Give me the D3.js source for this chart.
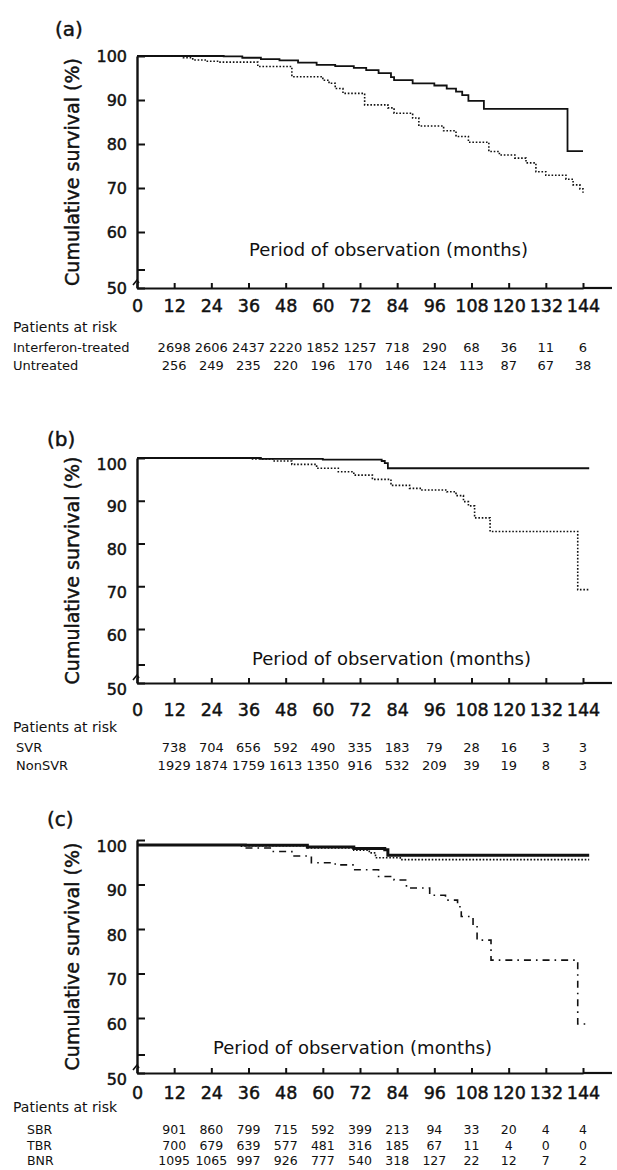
<!DOCTYPE html>
<html>

<head>
    <style>
        body {
            margin: 0;
            background: white;
        }

        text {
            font-family: "DejaVu Sans", sans-serif;
            fill: #111;
        }

        .heavy {
            stroke: #111;
            stroke-width: 0.45px;
        }
    </style>
</head>

<body>
    <div id="chart"></div>
    <script src="https://cdn.jsdelivr.net/npm/d3@7"></script>
    <script>

        const width = 617
        const height = 1170

        // x axis months and patients-at-risk columns
        const months = [0, 12, 24, 36, 48, 60, 72, 84, 96, 108, 120, 132, 144]
        const riskMonths = [12, 24, 36, 48, 60, 72, 84, 96, 108, 120, 132, 144]
        const yTicks = [50, 60, 70, 80, 90, 100]

        // (a) interferon-treated vs untreated, [month, survival %]
        const interferonCurve = [[0, 100], [28, 99.9], [34, 99.6], [40, 99.3], [46, 99.0], [52, 98.5], [58, 98.0], [64, 97.7],
        [70, 97.3], [74, 96.8], [78, 96.1], [82, 95.2], [83, 94.5], [89, 93.8], [96, 93.3], [100, 92.6], [103, 91.9],
        [105, 91.1], [107, 89.8], [112, 88.0], [139, 78.4], [144, 78.4]]
        const untreatedCurve = [[0, 100], [15, 99.6], [18, 99.1], [22, 98.8], [26, 98.6], [39, 97.6], [50, 95.3], [60, 94.5],
        [62, 93.8], [64, 92.6], [66.5, 91.5], [73.5, 88.9], [81, 88.2], [83, 87.0], [89, 85.9], [91, 84.1], [99, 83.0],
        [103, 81.7], [107, 80.4], [113.6, 78.3], [117, 77.5], [122, 76.8], [125.6, 75.7], [128.8, 73.7], [132, 72.9],
        [138.5, 72.0], [140.8, 70.7], [143, 69.8], [144, 68.9]]
        const interferonRisk = [2698, 2606, 2437, 2220, 1852, 1257, 718, 290, 68, 36, 11, 6]
        const untreatedRisk = [256, 249, 235, 220, 196, 170, 146, 124, 113, 87, 67, 38]

        // (b) SVR vs NonSVR
        const svrCurve = [[0, 100], [40, 99.8], [60, 99.6], [79, 99.3], [80, 98.8], [81, 97.6], [146, 97.6]]
        const nonSvrCurve = [[0, 100], [37, 99.8], [44, 99.3], [50, 98.5], [58, 97.6], [65, 96.8], [70, 96.0], [76, 95.0],
        [82, 93.6], [88, 92.9], [92, 92.5], [100, 92.1], [103, 91.2], [105.4, 89.8], [107, 88.8], [109, 86.0],
        [114, 82.8], [142.3, 69.2], [146, 69.2]]
        const svrRisk = [738, 704, 656, 592, 490, 335, 183, 79, 28, 16, 3, 3]
        const nonSvrRisk = [1929, 1874, 1759, 1613, 1350, 916, 532, 209, 39, 19, 8, 3]

        // (c) SBR, TBR, BNR
        const sbrCurve = [[0, 98.9], [35, 98.8], [55, 98.4], [70, 98.1], [80, 97.8], [81, 96.6], [146, 96.6]]
        const tbrCurve = [[0, 98.9], [35, 98.7], [55, 98.2], [70, 97.7], [75, 97.1], [77, 96.0], [85, 95.6], [146, 95.6]]
        const bnrCurve = [[0, 98.9], [32, 98.6], [34.6, 98.2], [43.6, 97.4], [50, 96.4], [56.3, 94.9], [64, 94.4],
        [70.3, 93.3], [78, 91.8], [83, 91.0], [87, 89.2], [94.5, 87.6], [99.6, 86.5], [103.5, 85.0], [104.7, 82.8],
        [108.5, 80.5], [109.8, 77.5], [114.3, 73.0], [142.3, 58.9], [146, 58.9]]
        const sbrRisk = [901, 860, 799, 715, 592, 399, 213, 94, 33, 20, 4, 4]
        const tbrRisk = [700, 679, 639, 577, 481, 316, 185, 67, 11, 4, 0, 0]
        const bnrRisk = [1095, 1065, 997, 926, 777, 540, 318, 127, 22, 12, 7, 2]

        const svg = d3.select("#chart")
            .append("svg")
            .attr("width", width)
            .attr("height", height)

        const x = d3.scaleLinear().domain([0, 144]).range([137, 583])

        const panels = [
            {
                title: "(a)", titleX: 55, titleY: 36, top: 56, y60: 232, bottom: 288, labelShift: 0, xPad: 12,
                periodX: 249, periodY: 256, riskY: 332, rowFont: 13,
                curves: [{ data: interferonCurve, style: "solid" }, { data: untreatedCurve, style: "dot" }],
                rows: [{ name: "Interferon-treated", lx: 13, y: 352, values: interferonRisk },
                { name: "Untreated", lx: 13, y: 370, values: untreatedRisk }]
            },
            {
                title: "(b)", titleX: 47, titleY: 446, top: 458, y60: 629, bottom: 683, labelShift: 6, xPad: 21,
                periodX: 252, periodY: 665, riskY: 732, rowFont: 13,
                curves: [{ data: svrCurve, style: "solid" }, { data: nonSvrCurve, style: "dot" }],
                rows: [{ name: "SVR", lx: 16, y: 752, values: svrRisk },
                { name: "NonSVR", lx: 16, y: 770, values: nonSvrRisk }]
            },
            {
                title: "(c)", titleX: 47, titleY: 826, top: 840, y60: 1018, bottom: 1073, labelShift: 6, xPad: 14,
                periodX: 213, periodY: 1054, riskY: 1112, rowFont: 12.5,
                curves: [{ data: tbrCurve, style: "dot" }, { data: bnrCurve, style: "dashdot" }, { data: sbrCurve, style: "thick" }],
                rows: [{ name: "SBR", lx: 27, y: 1134, values: sbrRisk },
                { name: "TBR", lx: 27, y: 1150, values: tbrRisk },
                { name: "BNR", lx: 27, y: 1165, values: bnrRisk }]
            }
        ]

        const styles = {
            solid: { w: 1.8, dash: null },
            thick: { w: 3, dash: null },
            dot: { w: 1.6, dash: "1.6,1.8" },
            dashdot: { w: 1.6, dash: "7,5,1.6,5" }
        }

        panels.forEach(p => {
            const y = d3.scaleLinear().domain([50, 60, 100]).range([p.bottom, p.y60, p.top])

            // title
            svg.append("text")
                .attr("class", "heavy")
                .attr("x", p.titleX).attr("y", p.titleY)
                .style("font-size", "20px")
                .text(p.title)

            // y axis
            const yAxis = svg.append("g")
                .attr("transform", `translate(${x(0)},0)`)
                .call(d3.axisLeft(y).tickValues(yTicks).tickSize(-8).tickSizeOuter(0).tickPadding(10))
            yAxis.select(".domain").attr("stroke", "#111").attr("stroke-width", 2.4)
            yAxis.selectAll(".tick line").attr("stroke", "#111").attr("stroke-width", 2)
            yAxis.selectAll(".tick text")
                .attr("class", "heavy")
                .attr("y", p.labelShift)
                .style("font-size", "16px")
                .style("font-family", "DejaVu Sans")
                .attr("fill", "#111")

            // axis break mark
            svg.append("line")
                .attr("x1", x(0)).attr("x2", x(0) + 8)
                .attr("y1", p.bottom - 18).attr("y2", p.bottom - 18)
                .attr("stroke", "#111").attr("stroke-width", 2)
            svg.append("path")
                .attr("d", `M${x(0) - 4},${p.bottom - 3} L${x(0)},${p.bottom - 8} L${x(0) + 2},${p.bottom - 5}`)
                .attr("fill", "none").attr("stroke", "#111").attr("stroke-width", 1.6)

            // x axis
            const xAxis = svg.append("g")
                .attr("transform", `translate(0,${p.bottom})`)
                .call(d3.axisBottom(x).tickValues(months).tickSize(-5).tickSizeOuter(0).tickPadding(p.xPad))
            xAxis.select(".domain").attr("stroke", "#111").attr("stroke-width", 2.2)
            xAxis.selectAll(".tick line").attr("stroke", "#111").attr("stroke-width", 2)
            xAxis.selectAll(".tick text")
                .attr("class", "heavy")
                .style("font-size", "17.5px")
                .style("font-family", "DejaVu Sans")
                .attr("fill", "#111")
            svg.append("line")
                .attr("x1", x(144)).attr("x2", 612)
                .attr("y1", p.bottom).attr("y2", p.bottom)
                .attr("stroke", "#111").attr("stroke-width", 2.2)

            // y label
            svg.append("text")
                .attr("class", "heavy")
                .attr("transform", `translate(72,${(p.top + p.bottom) / 2}) rotate(-90)`)
                .attr("text-anchor", "middle")
                .attr("dominant-baseline", "central")
                .style("font-size", "19px")
                .text("Cumulative survival (%)")

            svg.append("text")
                .attr("x", p.periodX).attr("y", p.periodY)
                .style("font-size", "18px")
                .text("Period of observation (months)")

            // curves
            const line = d3.line()
                .x(d => x(d[0]))
                .y(d => y(d[1]))
                .curve(d3.curveStepAfter)

            p.curves.forEach(c => {
                svg.append("path")
                    .datum(c.data)
                    .attr("d", line)
                    .attr("fill", "none")
                    .attr("stroke", "#111")
                    .attr("stroke-width", styles[c.style].w)
                    .attr("stroke-dasharray", styles[c.style].dash)
            })

            // patients at risk
            svg.append("text")
                .attr("x", 13).attr("y", p.riskY)
                .style("font-size", "14px")
                .text("Patients at risk")

            p.rows.forEach(r => {
                svg.append("text")
                    .attr("x", r.lx).attr("y", r.y)
                    .style("font-size", p.rowFont + "px")
                    .text(r.name)

                svg.append("g")
                    .selectAll("text")
                    .data(r.values)
                    .enter().append("text")
                    .attr("x", (d, i) => x(riskMonths[i]))
                    .attr("y", r.y)
                    .attr("text-anchor", "middle")
                    .style("font-size", p.rowFont + "px")
                    .text(d => d)
            })
        })

    </script>
</body>

</html>
